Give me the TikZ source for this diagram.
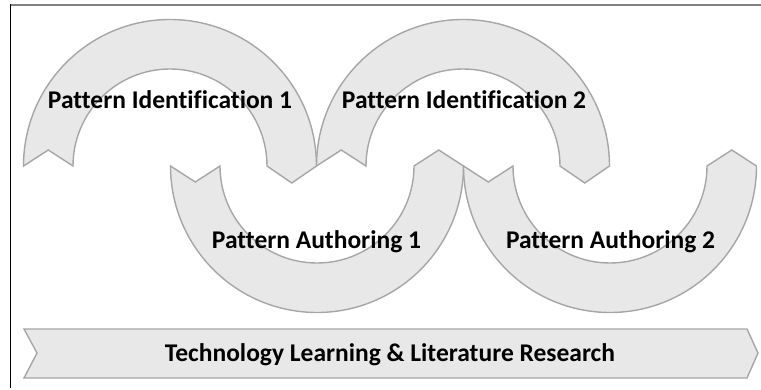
\documentclass[tikz,border=0pt]{standalone}
\usepackage{fontspec}
\setmainfont[Ligatures=NoCommon]{Carlito}
\begin{document}
\begin{tikzpicture}[x=1pt,y=1pt,
  blk/.style={fill=blkfill,draw=blkline,line width=1.4pt,line join=miter},
  lbl/.style={font=\fontsize{25.5}{30}\selectfont\bfseries,inner sep=0pt,text=black,anchor=base}]
\definecolor{blkfill}{HTML}{E8E8E8}
\definecolor{blkline}{HTML}{A6A6A6}
\useasboundingbox (0,0) rectangle (761,389);
% frame
\draw[line width=2pt,color={rgb,255:red,128;green,128;blue,128}] (10,383.5) -- (761,383.5);
\draw[line width=1pt,black] (10.5,384.5) -- (10.5,1);
\def\R{146.5}\def\r{97}\def\m{121.75}\def\yb{223}
% upper arcs (identification)
\foreach \cx in {170,463}{
  \path[blk] (\cx-\R,\yb) -- (\cx-\m,\yb+16) -- (\cx-\r,\yb)
    arc[start angle=180,end angle=0,radius=\r]
    -- (\cx+\m,\yb-17) -- (\cx+\R,\yb)
    arc[start angle=0,end angle=180,radius=\R] -- cycle;
}
% lower arcs (authoring)
\foreach \cx in {317,610}{
  \path[blk] (\cx-\R,\yb) -- (\cx-\m,\yb-16) -- (\cx-\r,\yb)
    arc[start angle=180,end angle=360,radius=\r]
    -- (\cx+\m,\yb+16) -- (\cx+\R,\yb)
    arc[start angle=0,end angle=-180,radius=\R] -- cycle;
}
% banner
\path[blk] (24,60) -- (747,60) -- (758,36) -- (747,11) -- (24,11) -- (37,36) -- cycle;
% labels
\node[lbl] (pi1) at (170,280) {Pattern Identification 1};
\node[lbl] (pi2) at (464,280) {Pattern Identification 2};
\node[lbl] (pa1) at (316.5,141) {Pattern Authoring 1};
\node[lbl] (pa2) at (610.5,141) {Pattern Authoring 2};
\node[lbl] (tl) at (390,27.5) {Technology Learning \& Literature Research};
\end{tikzpicture}
\end{document}
